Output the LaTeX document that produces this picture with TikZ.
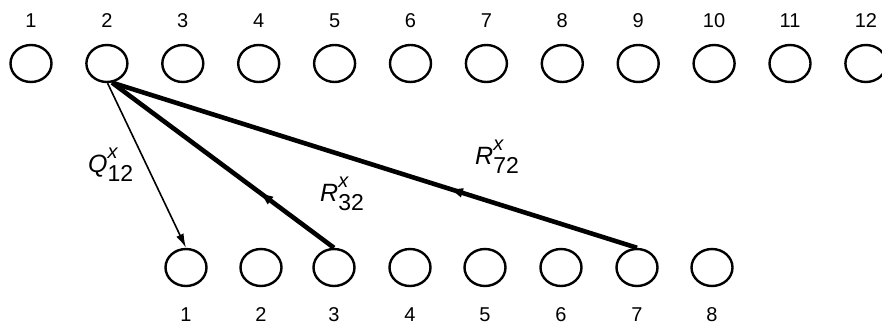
\documentclass[tikz,border=0pt]{standalone}
\usepackage{fontspec}
\setmainfont{Liberation Sans}
\usetikzlibrary{shapes.geometric,arrows.meta,decorations.markings}
\newcommand{\edgelab}[3]{{\fontsize{25}{26}\selectfont\itshape #1\rlap{\raisebox{14pt}{\fontsize{20}{20}\selectfont x}}\raisebox{-9pt}{\fontsize{23}{23}\selectfont\upshape #2#3}}}
\tikzset{
  site/.style={draw, ellipse, line width=2.4pt, minimum width=41pt, minimum height=37pt, inner sep=0pt},
  num/.style={anchor=base, inner sep=0pt, font=\fontsize{20}{20}\selectfont},
  thinarrow/.style={line width=1.6pt, -{Latex[length=14pt,width=8pt]}},
  thickline/.style={line width=4.6pt},
  midarrow/.style={postaction={decorate}, decoration={markings, mark=at position #1 with {\arrow{Latex[length=15pt,width=10pt]}}}},
  lab/.style={anchor=base west, inner sep=0pt}
}
\begin{document}
\begin{tikzpicture}[x=1pt,y=-1pt]
\useasboundingbox (0,0) rectangle (882,326);
\clip (0,0) rectangle (882,326);
% top row
\foreach \i in {1,...,12} {
  \pgfmathsetmacro{\xx}{31+75.9*(\i-1)}
  \node[site] (t\i) at (\xx,63.5) {};
  \node[num] (tl\i) at (\xx,28) {\i};
}
% bottom row
\foreach \i/\xx in {1/186,2/261,3/334,4/410,5/485,6/561,7/637,8/712} {
  \node[site] (b\i) at (\xx,267.5) {};
  \node[num] (bl\i) at (\xx,321) {\i};
}
\coordinate (hub) at (t2.-75);
\draw[thinarrow] (t2.-88) -- (b1.north);
\draw[thickline, midarrow=0.34] (b3.north) -- (hub);
\draw[thickline, midarrow=0.36] (b7.north) -- (hub);
\node[lab] (q12) at (88,172) {\edgelab{Q}{1}{2}};
\node[lab] (r32) at (320,201) {\edgelab{R}{3}{2}};
\node[lab] (r72) at (475,164) {\edgelab{R}{7}{2}};
\end{tikzpicture}
\end{document}
